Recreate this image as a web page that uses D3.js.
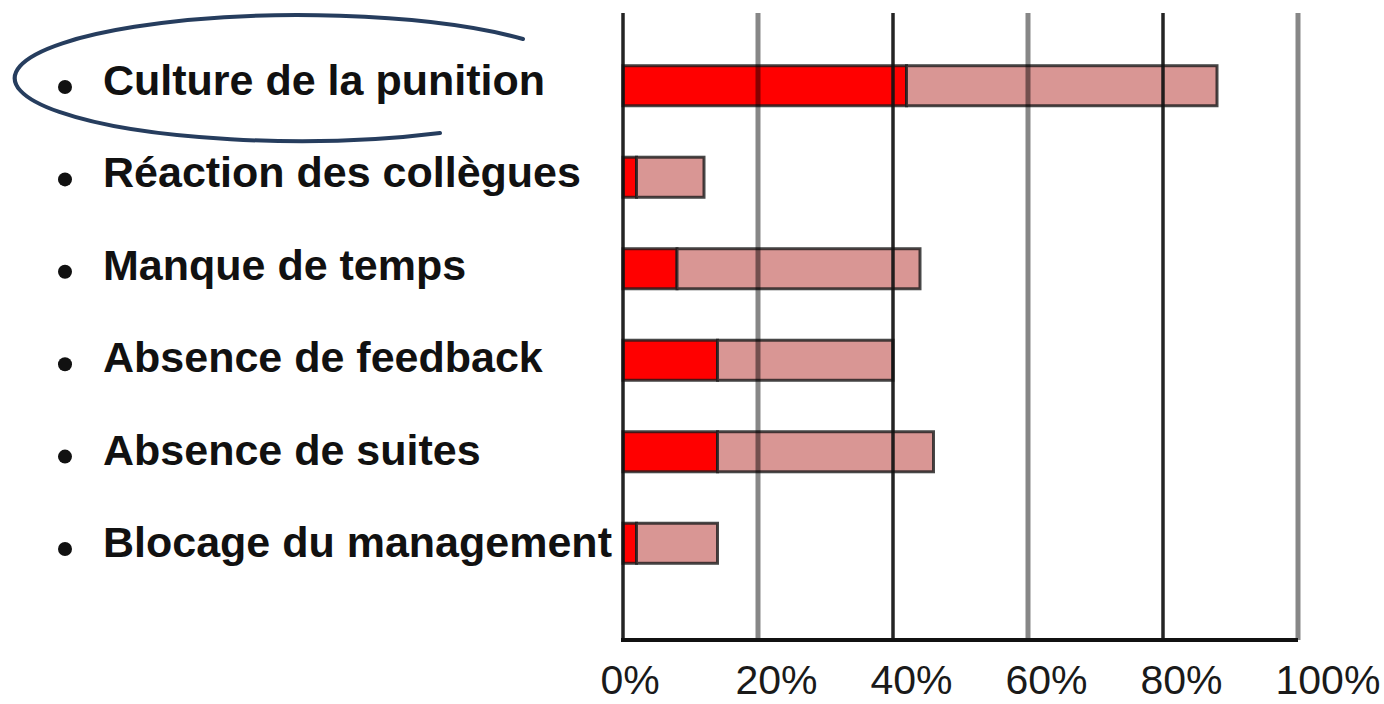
<!DOCTYPE html>
<html>
<head>
<meta charset="utf-8">
<script src="https://cdn.jsdelivr.net/npm/d3@7"></script>
<style>
  html, body { margin: 0; padding: 0; background: #fff; }
  svg { display: block; }
</style>
</head>
<body>
<svg id="chart"></svg>
<script>
const width = 1384;
const height = 704;
const plot = {top: 13, bottom: 640, left: 623, right: 1298};

// Chart data (percent of respondents).
const categories = [
  'Culture de la punition',
  'Réaction des collègues',
  'Manque de temps',
  'Absence de feedback',
  'Absence de suites',
  'Blocage du management',
];
const strongValues = [42, 2, 8, 14, 14, 2];
const lightValues = [46, 10, 36, 26, 32, 12];
const tickValues = [0, 20, 40, 60, 80, 100];

const red = '#ff0000';
const pink = '#d99694';
const font = '"Liberation Sans", Arial, sans-serif';

const svg = d3.select('#chart').attr('width', width).attr('height', height);

const xScale = d3.scaleLinear().domain([0, 100]).range([plot.left, plot.right]);
const yScale = d3
  .scaleBand()
  .domain(categories)
  .range([40, 589])
  .paddingInner(0.5624)
  .paddingOuter(0.281);
// Label rows sit on a slightly wider pitch than the bars.
const labelY = d3.scalePoint().domain(categories).range([95, 557]);

// Stack the two series so each bar is split dark / light.
const rows = categories.map((c, i) => ({
  cat: c,
  strong: strongValues[i],
  light: lightValues[i],
}));
const stacked = d3.stack().keys(['strong', 'light'])(rows);
const fills = {strong: red, light: pink};

svg
  .append('g')
  .selectAll('g')
  .data(stacked)
  .join('g')
  .attr('fill', (s) => fills[s.key])
  .selectAll('rect')
  .data((s) => s)
  .join('rect')
  .attr('x', (d) => xScale(d[0]))
  .attr('y', (d) => yScale(d.data.cat))
  .attr('width', (d) => xScale(d[1]) - xScale(d[0]))
  .attr('height', yScale.bandwidth())
  .attr('stroke', '#1a1a1a')
  .attr('stroke-opacity', 0.8)
  .attr('stroke-width', 3);

// Vertical grid lines, alternating black and grey, drawn over the bars.
svg
  .append('g')
  .selectAll('line')
  .data(tickValues)
  .join('line')
  .attr('x1', (d) => xScale(d))
  .attr('x2', (d) => xScale(d))
  .attr('y1', plot.top)
  .attr('y2', plot.bottom)
  .attr('stroke', (d, i) => (i % 2 ? '#000' : '#111'))
  .attr('stroke-opacity', (d, i) => (i % 2 ? 0.47 : 0.92))
  .attr('stroke-width', (d, i) => (i % 2 ? 5 : 3.5));

// X axis with percentage labels, left-aligned just before each grid line.
const xAxis = d3
  .axisBottom(xScale)
  .tickValues(tickValues)
  .tickFormat((d) => d + '%')
  .tickSize(0);
const axisG = svg
  .append('g')
  .attr('transform', `translate(0, ${plot.bottom})`)
  .call(xAxis);
axisG
  .select('.domain')
  .attr('stroke', '#111')
  .attr('stroke-width', 4)
  .attr('d', `M${plot.left - 2},0H${plot.right}`);
// Baseline kept just high enough that the text box stays inside the page.
axisG
  .selectAll('text')
  .attr('font-family', font)
  .attr('font-size', 41)
  .attr('fill', '#1a1a1a')
  .attr('text-anchor', 'start')
  .attr('x', -23)
  .attr('y', 54)
  .attr('dy', 0);

// Bulleted category labels.
const labels = svg.append('g');
labels
  .selectAll('circle')
  .data(categories)
  .join('circle')
  .attr('cx', 65)
  .attr('cy', (d) => labelY(d) - 8)
  .attr('r', 7)
  .attr('fill', '#111');
labels
  .selectAll('text')
  .data(categories)
  .join('text')
  .attr('x', 103)
  .attr('y', (d) => labelY(d))
  .attr('font-family', font)
  .attr('font-size', 43)
  .attr('font-weight', 'bold')
  .attr('fill', '#111')
  .text((d) => d);

// Hand-drawn style highlight around the first label.
const cy = labelY(categories[0]) - 17;
svg
  .append('path')
  .attr('d', `M440,${cy + 55} A285 63 0 1 1 523,${cy - 39}`)
  .attr('fill', 'none')
  .attr('stroke', '#263d5e')
  .attr('stroke-width', 4)
  .attr('stroke-linecap', 'round');
</script>
</body>
</html>
